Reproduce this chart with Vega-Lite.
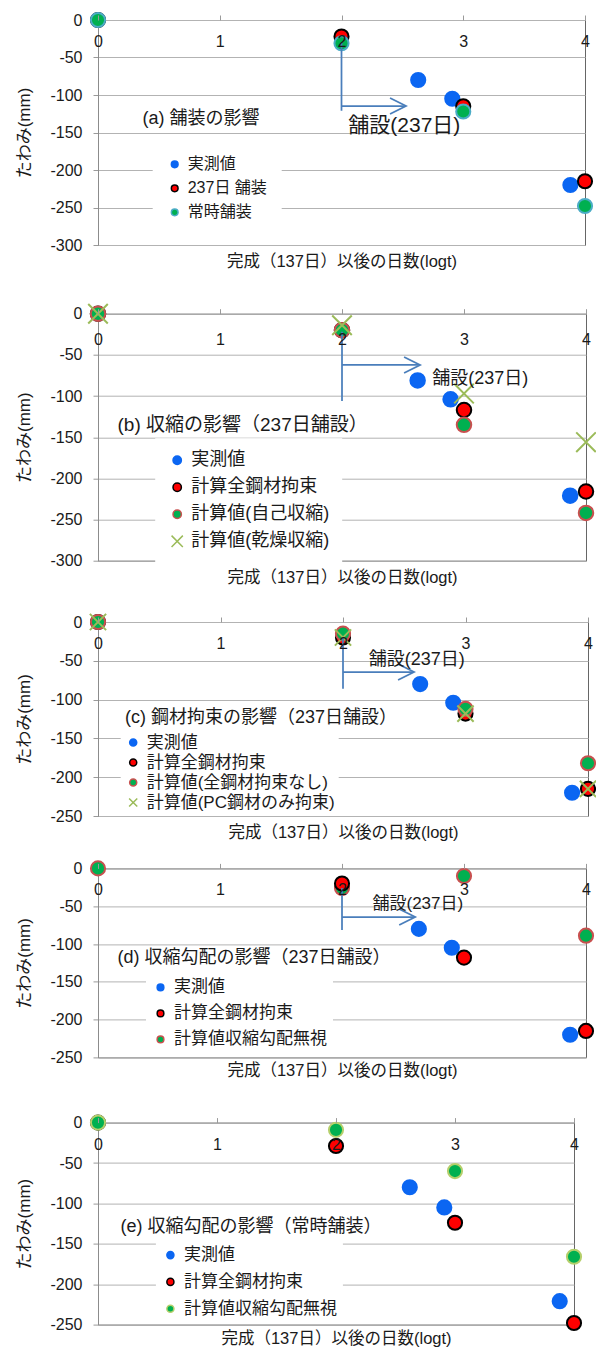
{
  "$schema": "https://vega.github.io/schema/vega-lite/v6.json",
  "background": "white",
  "padding": {"left": 15, "top": 8, "right": 0, "bottom": 0},
  "spacing": 30.6,
  "config": {
    "font": "Liberation Sans, Noto Sans CJK JP",
    "view": {"stroke": "#666666", "strokeWidth": 1},
    "axis": {
      "labelFont": "Liberation Sans, Noto Sans CJK JP",
      "titleFont": "Liberation Sans, Noto Sans CJK JP",
      "labelFontSize": 16,
      "labelColor": "#1a1a1a",
      "titleFontSize": 16.5,
      "titleFontWeight": "normal",
      "titleColor": "#1a1a1a",
      "gridColor": "#b3b3b3",
      "tickColor": "#9a9a9a",
      "domainColor": "#8c8c8c"
    },
    "legend": {
      "labelFont": "Liberation Sans, Noto Sans CJK JP",
      "labelColor": "#1a1a1a",
      "labelLimit": 0,
      "fillColor": "white",
      "symbolStrokeWidth": 1.5,
      "labelOffset": 5
    },
    "text": {"font": "Liberation Sans, Noto Sans CJK JP", "color": "#1a1a1a"}
  },
  "resolve": {
    "scale": {"x": "independent", "y": "independent", "fill": "independent", "stroke": "independent", "shape": "independent"}
  },
  "datasets": {
    "pts": [
      {"p": "a", "s": "実測値", "x": 2.63, "y": -80},
      {"p": "a", "s": "実測値", "x": 2.91, "y": -105},
      {"p": "a", "s": "実測値", "x": 3.88, "y": -220},
      {"p": "a", "s": "237日 舗装", "x": 0, "y": 0},
      {"p": "a", "s": "237日 舗装", "x": 2, "y": -22},
      {"p": "a", "s": "237日 舗装", "x": 3, "y": -115},
      {"p": "a", "s": "237日 舗装", "x": 4, "y": -215},
      {"p": "a", "s": "常時舗装", "x": 0, "y": 0},
      {"p": "a", "s": "常時舗装", "x": 2, "y": -31},
      {"p": "a", "s": "常時舗装", "x": 3, "y": -122},
      {"p": "a", "s": "常時舗装", "x": 4, "y": -248},

      {"p": "b", "s": "実測値", "x": 2.62, "y": -81},
      {"p": "b", "s": "実測値", "x": 2.89, "y": -104},
      {"p": "b", "s": "実測値", "x": 3.87, "y": -221},
      {"p": "b", "s": "計算全鋼材拘束", "x": 0, "y": 0},
      {"p": "b", "s": "計算全鋼材拘束", "x": 2, "y": -20},
      {"p": "b", "s": "計算全鋼材拘束", "x": 3, "y": -117},
      {"p": "b", "s": "計算全鋼材拘束", "x": 4, "y": -216},
      {"p": "b", "s": "計算値(自己収縮)", "x": 0, "y": 0},
      {"p": "b", "s": "計算値(自己収縮)", "x": 2, "y": -20},
      {"p": "b", "s": "計算値(自己収縮)", "x": 3, "y": -135},
      {"p": "b", "s": "計算値(自己収縮)", "x": 4, "y": -242},
      {"p": "b", "s": "計算値(乾燥収縮)", "x": 0, "y": 0},
      {"p": "b", "s": "計算値(乾燥収縮)", "x": 2, "y": -14},
      {"p": "b", "s": "計算値(乾燥収縮)", "x": 3, "y": -97},
      {"p": "b", "s": "計算値(乾燥収縮)", "x": 4, "y": -156},

      {"p": "c", "s": "実測値", "x": 2.63, "y": -80},
      {"p": "c", "s": "実測値", "x": 2.9, "y": -104},
      {"p": "c", "s": "実測値", "x": 3.87, "y": -220},
      {"p": "c", "s": "計算全鋼材拘束", "x": 0, "y": 0},
      {"p": "c", "s": "計算全鋼材拘束", "x": 2, "y": -20},
      {"p": "c", "s": "計算全鋼材拘束", "x": 3, "y": -118},
      {"p": "c", "s": "計算全鋼材拘束", "x": 4, "y": -215},
      {"p": "c", "s": "計算値(全鋼材拘束なし)", "x": 0, "y": 0},
      {"p": "c", "s": "計算値(全鋼材拘束なし)", "x": 2, "y": -15},
      {"p": "c", "s": "計算値(全鋼材拘束なし)", "x": 3, "y": -112},
      {"p": "c", "s": "計算値(全鋼材拘束なし)", "x": 4, "y": -182},
      {"p": "c", "s": "計算値(PC鋼材のみ拘束)", "x": 0, "y": 0},
      {"p": "c", "s": "計算値(PC鋼材のみ拘束)", "x": 2, "y": -20},
      {"p": "c", "s": "計算値(PC鋼材のみ拘束)", "x": 3, "y": -118},
      {"p": "c", "s": "計算値(PC鋼材のみ拘束)", "x": 4, "y": -215},

      {"p": "d", "s": "実測値", "x": 2.63, "y": -80},
      {"p": "d", "s": "実測値", "x": 2.9, "y": -105},
      {"p": "d", "s": "実測値", "x": 3.87, "y": -220},
      {"p": "d", "s": "計算値収縮勾配無視", "x": 0, "y": 0},
      {"p": "d", "s": "計算値収縮勾配無視", "x": 2, "y": -26},
      {"p": "d", "s": "計算値収縮勾配無視", "x": 3, "y": -10},
      {"p": "d", "s": "計算値収縮勾配無視", "x": 4, "y": -89},
      {"p": "d", "s": "計算全鋼材拘束", "x": 2, "y": -20},
      {"p": "d", "s": "計算全鋼材拘束", "x": 3, "y": -118},
      {"p": "d", "s": "計算全鋼材拘束", "x": 4, "y": -215},

      {"p": "e", "s": "実測値", "x": 2.62, "y": -80},
      {"p": "e", "s": "実測値", "x": 2.91, "y": -105},
      {"p": "e", "s": "実測値", "x": 3.88, "y": -221},
      {"p": "e", "s": "計算全鋼材拘束", "x": 0, "y": 0},
      {"p": "e", "s": "計算全鋼材拘束", "x": 2, "y": -29},
      {"p": "e", "s": "計算全鋼材拘束", "x": 3, "y": -124},
      {"p": "e", "s": "計算全鋼材拘束", "x": 4, "y": -248},
      {"p": "e", "s": "計算値収縮勾配無視", "x": 0, "y": 0},
      {"p": "e", "s": "計算値収縮勾配無視", "x": 2, "y": -9},
      {"p": "e", "s": "計算値収縮勾配無視", "x": 3, "y": -60},
      {"p": "e", "s": "計算値収縮勾配無視", "x": 4, "y": -166}
    ],
    "notes": [
      {"p": "a", "k": "title", "t": "(a) 舗装の影響", "x": 0.365, "y": -132},
      {"p": "a", "k": "pave", "t": "舗設(237日)", "x": 2.056, "y": -141},
      {"p": "b", "k": "title", "t": "(b) 収縮の影響（237日舗設）", "x": 0.16, "y": -135},
      {"p": "b", "k": "pave", "t": "舗設(237日)", "x": 2.74, "y": -79},
      {"p": "c", "k": "title", "t": "(c) 鋼材拘束の影響（237日舗設）", "x": 0.22, "y": -124},
      {"p": "c", "k": "pave", "t": "舗設(237日)", "x": 2.21, "y": -49.4},
      {"p": "d", "k": "title", "t": "(d) 収縮勾配の影響（237日舗設）", "x": 0.16, "y": -119},
      {"p": "d", "k": "pave", "t": "舗設(237日)", "x": 2.25, "y": -47},
      {"p": "e", "k": "title", "t": "(e) 収縮勾配の影響（常時舗装）", "x": 0.19, "y": -129}
    ],
    "arrows": [
      {"p": "a", "x": 2, "x2": 2, "y": -30, "y2": -121},
      {"p": "a", "x": 2, "x2": 2.53, "y": -114.7, "y2": -114.7},
      {"p": "b", "x": 2, "x2": 2, "y": -22, "y2": -106},
      {"p": "b", "x": 2, "x2": 2.64, "y": -62.3, "y2": -62.3},
      {"p": "c", "x": 2, "x2": 2, "y": -20, "y2": -86},
      {"p": "c", "x": 2, "x2": 2.58, "y": -64.5, "y2": -64.5},
      {"p": "d", "x": 2, "x2": 2, "y": -26, "y2": -81.5},
      {"p": "d", "x": 2, "x2": 2.6, "y": -64.3, "y2": -64.3}
    ],
    "heads": [
      {"p": "a", "x": 2.53, "y": -114.7},
      {"p": "b", "x": 2.64, "y": -62.3},
      {"p": "c", "x": 2.58, "y": -64.5},
      {"p": "d", "x": 2.6, "y": -64.3}
    ]
  },
  "vconcat": [
    {
      "spacing": 22,
      "resolve": {
        "scale": {"x": "independent", "y": "independent", "fill": "independent", "stroke": "independent", "shape": "independent"}
      },
      "vconcat": [
        {
          "spacing": 28.7,
          "resolve": {
            "scale": {"x": "independent", "y": "independent", "fill": "independent", "stroke": "independent", "shape": "independent"}
          },
          "vconcat": [
            {
              "width": 487, "height": 225,
              "layer": [
                {
                  "data": {"name": "pts"},
                  "transform": [{"filter": "datum.p === 'a'"}],
                  "mark": {"type": "point", "filled": true, "opacity": 1, "size": 200, "strokeWidth": 2},
                  "encoding": {
                    "x": {"field": "x", "type": "quantitative", "scale": {"domain": [0, 4], "nice": false, "zero": false},
                      "axis": {"orient": "top", "values": [0, 1, 2, 3, 4], "format": "d", "grid": false, "domain": false, "zindex": 1, "tickSize": 5, "labelPadding": -18, "labelBaseline": "top", "labelFlush": false, "labelOverlap": false,
                        "title": "完成（137日）以後の日数(logt)", "titleY": 241, "titleBaseline": "middle"}},
                    "y": {"field": "y", "type": "quantitative", "scale": {"domain": [-300, 0], "nice": false, "zero": false},
                      "axis": {"values": [0, -50, -100, -150, -200, -250, -300], "tickCount": 20, "labelOverlap": false, "labelFlush": false, "title": "たわみ(mm)", "titleFontSize": 17, "titlePadding": 16, "labelPadding": 11, "tickSize": 5, "grid": true, "labelExpr": "replace(datum.label, '\u2212', '-')"}},
                    "fill": {"field": "s", "type": "nominal",
                      "scale": {"domain": ["実測値", "237日 舗装", "常時舗装"], "range": ["#0b66f2", "#ff0000", "#00b050"]},
                      "legend": {"title": null, "orient": "none", "legendX": 54.7, "legendY": 122.3, "padding": 14, "rowPadding": 8, "labelFontSize": 16, "symbolSize": 45}},
                    "stroke": {"field": "s", "type": "nominal",
                      "scale": {"domain": ["実測値", "237日 舗装", "常時舗装"], "range": ["#0b66f2", "#000000", "#4bacc6"]}},
                    "shape": {"field": "s", "type": "nominal",
                      "scale": {"domain": ["実測値", "237日 舗装", "常時舗装"], "range": ["circle", "circle", "circle"]}}
                  }
                },
                {
                  "data": {"name": "arrows"},
                  "transform": [{"filter": "datum.p === 'a'"}],
                  "mark": {"type": "rule", "color": "#4a7ebb", "strokeWidth": 1.75},
                  "encoding": {
                    "x": {"field": "x", "type": "quantitative"}, "x2": {"field": "x2"},
                    "y": {"field": "y", "type": "quantitative"}, "y2": {"field": "y2"}
                  }
                },
                {
                  "data": {"name": "heads"},
                  "transform": [{"filter": "datum.p === 'a'"}],
                  "mark": {"type": "point", "shape": "M-2,-1L0,0L-2,1", "size": 256, "filled": false, "opacity": 1, "stroke": "#4a7ebb", "strokeWidth": 1.75},
                  "encoding": {"x": {"field": "x", "type": "quantitative"}, "y": {"field": "y", "type": "quantitative"}}
                },
                {
                  "data": {"name": "notes"},
                  "transform": [{"filter": "datum.p === 'a' && datum.k === 'title'"}],
                  "mark": {"type": "text", "align": "left", "baseline": "middle", "fontSize": 18},
                  "encoding": {"x": {"field": "x", "type": "quantitative"}, "y": {"field": "y", "type": "quantitative"}, "text": {"field": "t"}}
                },
                {
                  "data": {"name": "notes"},
                  "transform": [{"filter": "datum.p === 'a' && datum.k === 'pave'"}],
                  "mark": {"type": "text", "align": "left", "baseline": "middle", "fontSize": 21},
                  "encoding": {"x": {"field": "x", "type": "quantitative"}, "y": {"field": "y", "type": "quantitative"}, "text": {"field": "t"}}
                }
              ]
            },
            {
              "width": 488, "height": 247,
              "layer": [
                {
                  "data": {"name": "pts"},
                  "transform": [{"filter": "datum.p === 'b'"}],
                  "mark": {"type": "point", "filled": true, "opacity": 1, "size": 210, "strokeWidth": 2},
                  "encoding": {
                    "x": {"field": "x", "type": "quantitative", "scale": {"domain": [0, 4], "nice": false, "zero": false},
                      "axis": {"orient": "top", "values": [0, 1, 2, 3, 4], "format": "d", "grid": false, "domain": false, "zindex": 1, "tickSize": 5, "labelPadding": -23, "labelBaseline": "top", "labelFlush": false, "labelOverlap": false,
                        "title": "完成（137日）以後の日数(logt)", "titleY": 264, "titleBaseline": "middle"}},
                    "y": {"field": "y", "type": "quantitative", "scale": {"domain": [-300, 0], "nice": false, "zero": false},
                      "axis": {"values": [0, -50, -100, -150, -200, -250, -300], "tickCount": 20, "labelOverlap": false, "labelFlush": false, "title": "たわみ(mm)", "titleFontSize": 17, "titlePadding": 16, "labelPadding": 11, "tickSize": 5, "grid": true, "labelExpr": "replace(datum.label, '\u2212', '-')"}},
                    "fill": {"field": "s", "type": "nominal",
                      "scale": {"domain": ["実測値", "計算全鋼材拘束", "計算値(自己収縮)", "計算値(乾燥収縮)"], "range": ["#0b66f2", "#ff0000", "#00b050", "transparent"]},
                      "legend": {"title": null, "orient": "none", "legendX": 57.2, "legendY": 124.6, "padding": 13, "rowPadding": 9, "labelFontSize": 18, "symbolSize": 70}},
                    "stroke": {"field": "s", "type": "nominal",
                      "scale": {"domain": ["実測値", "計算全鋼材拘束", "計算値(自己収縮)", "計算値(乾燥収縮)"], "range": ["#0b66f2", "#000000", "#c8504f", "#9bbb59"]}},
                    "shape": {"field": "s", "type": "nominal",
                      "scale": {"domain": ["実測値", "計算全鋼材拘束", "計算値(自己収縮)", "計算値(乾燥収縮)"], "range": ["circle", "circle", "circle", "M-1.35,-1.35L1.35,1.35M1.35,-1.35L-1.35,1.35"]}}
                  }
                },
                {
                  "data": {"name": "arrows"},
                  "transform": [{"filter": "datum.p === 'b'"}],
                  "mark": {"type": "rule", "color": "#4a7ebb", "strokeWidth": 1.75},
                  "encoding": {
                    "x": {"field": "x", "type": "quantitative"}, "x2": {"field": "x2"},
                    "y": {"field": "y", "type": "quantitative"}, "y2": {"field": "y2"}
                  }
                },
                {
                  "data": {"name": "heads"},
                  "transform": [{"filter": "datum.p === 'b'"}],
                  "mark": {"type": "point", "shape": "M-2,-1L0,0L-2,1", "size": 256, "filled": false, "opacity": 1, "stroke": "#4a7ebb", "strokeWidth": 1.75},
                  "encoding": {"x": {"field": "x", "type": "quantitative"}, "y": {"field": "y", "type": "quantitative"}}
                },
                {
                  "data": {"name": "notes"},
                  "transform": [{"filter": "datum.p === 'b' && datum.k === 'title'"}],
                  "mark": {"type": "text", "align": "left", "baseline": "middle", "fontSize": 19},
                  "encoding": {"x": {"field": "x", "type": "quantitative"}, "y": {"field": "y", "type": "quantitative"}, "text": {"field": "t"}}
                },
                {
                  "data": {"name": "notes"},
                  "transform": [{"filter": "datum.p === 'b' && datum.k === 'pave'"}],
                  "mark": {"type": "text", "align": "left", "baseline": "middle", "fontSize": 18},
                  "encoding": {"x": {"field": "x", "type": "quantitative"}, "y": {"field": "y", "type": "quantitative"}, "text": {"field": "t"}}
                }
              ]
            }
          ]
        },
        {
          "spacing": 15.4,
          "resolve": {
            "scale": {"x": "independent", "y": "independent", "fill": "independent", "stroke": "independent", "shape": "independent"}
          },
          "vconcat": [
            {
              "width": 490, "height": 194,
              "layer": [
                {
                  "data": {"name": "pts"},
                  "transform": [{"filter": "datum.p === 'c'"}],
                  "mark": {"type": "point", "filled": true, "opacity": 1, "size": 200, "strokeWidth": 2},
                  "encoding": {
                    "x": {"field": "x", "type": "quantitative", "scale": {"domain": [0, 4], "nice": false, "zero": false},
                      "axis": {"orient": "top", "values": [0, 1, 2, 3, 4], "format": "d", "grid": false, "domain": false, "zindex": 1, "tickSize": 5, "labelPadding": -18, "labelBaseline": "top", "labelFlush": false, "labelOverlap": false,
                        "title": "完成（137日）以後の日数(logt)", "titleY": 210, "titleBaseline": "middle"}},
                    "y": {"field": "y", "type": "quantitative", "scale": {"domain": [-250, 0], "nice": false, "zero": false},
                      "axis": {"values": [0, -50, -100, -150, -200, -250], "tickCount": 20, "labelOverlap": false, "labelFlush": false, "title": "たわみ(mm)", "titleFontSize": 17, "titlePadding": 16, "labelPadding": 11, "tickSize": 5, "grid": true, "labelExpr": "replace(datum.label, '\u2212', '-')"}},
                    "fill": {"field": "s", "type": "nominal",
                      "scale": {"domain": ["実測値", "計算全鋼材拘束", "計算値(全鋼材拘束なし)", "計算値(PC鋼材のみ拘束)"], "range": ["#0b66f2", "#ff0000", "#00b050", "transparent"]},
                      "legend": {"title": null, "orient": "none", "legendX": 22.7, "legendY": 108, "padding": 4, "rowPadding": 2, "labelFontSize": 17, "symbolSize": 50}},
                    "stroke": {"field": "s", "type": "nominal",
                      "scale": {"domain": ["実測値", "計算全鋼材拘束", "計算値(全鋼材拘束なし)", "計算値(PC鋼材のみ拘束)"], "range": ["#0b66f2", "#000000", "#c8504f", "#9bbb59"]}},
                    "shape": {"field": "s", "type": "nominal",
                      "scale": {"domain": ["実測値", "計算全鋼材拘束", "計算値(全鋼材拘束なし)", "計算値(PC鋼材のみ拘束)"], "range": ["circle", "circle", "circle", "M-1.15,-1.15L1.15,1.15M1.15,-1.15L-1.15,1.15"]}}
                  }
                },
                {
                  "data": {"name": "arrows"},
                  "transform": [{"filter": "datum.p === 'c'"}],
                  "mark": {"type": "rule", "color": "#4a7ebb", "strokeWidth": 1.75},
                  "encoding": {
                    "x": {"field": "x", "type": "quantitative"}, "x2": {"field": "x2"},
                    "y": {"field": "y", "type": "quantitative"}, "y2": {"field": "y2"}
                  }
                },
                {
                  "data": {"name": "heads"},
                  "transform": [{"filter": "datum.p === 'c'"}],
                  "mark": {"type": "point", "shape": "M-2,-1L0,0L-2,1", "size": 256, "filled": false, "opacity": 1, "stroke": "#4a7ebb", "strokeWidth": 1.75},
                  "encoding": {"x": {"field": "x", "type": "quantitative"}, "y": {"field": "y", "type": "quantitative"}}
                },
                {
                  "data": {"name": "notes"},
                  "transform": [{"filter": "datum.p === 'c' && datum.k === 'title'"}],
                  "mark": {"type": "text", "align": "left", "baseline": "middle", "fontSize": 18},
                  "encoding": {"x": {"field": "x", "type": "quantitative"}, "y": {"field": "y", "type": "quantitative"}, "text": {"field": "t"}}
                },
                {
                  "data": {"name": "notes"},
                  "transform": [{"filter": "datum.p === 'c' && datum.k === 'pave'"}],
                  "mark": {"type": "text", "align": "left", "baseline": "middle", "fontSize": 18},
                  "encoding": {"x": {"field": "x", "type": "quantitative"}, "y": {"field": "y", "type": "quantitative"}, "text": {"field": "t"}}
                }
              ]
            },
            {
              "width": 488, "height": 189,
              "layer": [
                {
                  "data": {"name": "pts"},
                  "transform": [{"filter": "datum.p === 'd'"}],
                  "mark": {"type": "point", "filled": true, "opacity": 1, "size": 200, "strokeWidth": 2},
                  "encoding": {
                    "x": {"field": "x", "type": "quantitative", "scale": {"domain": [0, 4], "nice": false, "zero": false},
                      "axis": {"orient": "top", "values": [0, 1, 2, 3, 4], "format": "d", "grid": false, "domain": false, "zindex": 1, "tickSize": 5, "labelPadding": -18, "labelBaseline": "top", "labelFlush": false, "labelOverlap": false,
                        "title": "完成（137日）以後の日数(logt)", "titleY": 202, "titleBaseline": "middle"}},
                    "y": {"field": "y", "type": "quantitative", "scale": {"domain": [-250, 0], "nice": false, "zero": false},
                      "axis": {"values": [0, -50, -100, -150, -200, -250], "tickCount": 20, "labelOverlap": false, "labelFlush": false, "title": "たわみ(mm)", "titleFontSize": 17, "titlePadding": 16, "labelPadding": 11, "tickSize": 5, "grid": true, "labelExpr": "replace(datum.label, '\u2212', '-')"}},
                    "fill": {"field": "s", "type": "nominal",
                      "scale": {"domain": ["実測値", "計算全鋼材拘束", "計算値収縮勾配無視"], "range": ["#0b66f2", "#ff0000", "#00b050"]},
                      "legend": {"title": null, "orient": "none", "legendX": 48, "legendY": 104.5, "padding": 6, "rowPadding": 8, "labelFontSize": 17, "symbolSize": 45}},
                    "stroke": {"field": "s", "type": "nominal",
                      "scale": {"domain": ["実測値", "計算全鋼材拘束", "計算値収縮勾配無視"], "range": ["#0b66f2", "#000000", "#c8504f"]}},
                    "shape": {"field": "s", "type": "nominal",
                      "scale": {"domain": ["実測値", "計算全鋼材拘束", "計算値収縮勾配無視"], "range": ["circle", "circle", "circle"]}}
                  }
                },
                {
                  "data": {"name": "arrows"},
                  "transform": [{"filter": "datum.p === 'd'"}],
                  "mark": {"type": "rule", "color": "#4a7ebb", "strokeWidth": 1.75},
                  "encoding": {
                    "x": {"field": "x", "type": "quantitative"}, "x2": {"field": "x2"},
                    "y": {"field": "y", "type": "quantitative"}, "y2": {"field": "y2"}
                  }
                },
                {
                  "data": {"name": "heads"},
                  "transform": [{"filter": "datum.p === 'd'"}],
                  "mark": {"type": "point", "shape": "M-2,-1L0,0L-2,1", "size": 256, "filled": false, "opacity": 1, "stroke": "#4a7ebb", "strokeWidth": 1.75},
                  "encoding": {"x": {"field": "x", "type": "quantitative"}, "y": {"field": "y", "type": "quantitative"}}
                },
                {
                  "data": {"name": "notes"},
                  "transform": [{"filter": "datum.p === 'd' && datum.k === 'title'"}],
                  "mark": {"type": "text", "align": "left", "baseline": "middle", "fontSize": 18},
                  "encoding": {"x": {"field": "x", "type": "quantitative"}, "y": {"field": "y", "type": "quantitative"}, "text": {"field": "t"}}
                },
                {
                  "data": {"name": "notes"},
                  "transform": [{"filter": "datum.p === 'd' && datum.k === 'pave'"}],
                  "mark": {"type": "text", "align": "left", "baseline": "middle", "fontSize": 17},
                  "encoding": {"x": {"field": "x", "type": "quantitative"}, "y": {"field": "y", "type": "quantitative"}, "text": {"field": "t"}}
                }
              ]
            }
          ]
        }
      ]
    },
    {
      "width": 476, "height": 202,
      "layer": [
        {
          "data": {"name": "pts"},
          "transform": [{"filter": "datum.p === 'e'"}],
          "mark": {"type": "point", "filled": true, "opacity": 1, "size": 200, "strokeWidth": 2},
          "encoding": {
            "x": {"field": "x", "type": "quantitative", "scale": {"domain": [0, 4], "nice": false, "zero": false},
              "axis": {"orient": "top", "values": [0, 1, 2, 3, 4], "format": "d", "grid": false, "domain": false, "zindex": 1, "tickSize": 5, "labelPadding": -19, "labelBaseline": "top", "labelFlush": false, "labelOverlap": false,
                "title": "完成（137日）以後の日数(logt)", "titleY": 216, "titleBaseline": "middle"}},
            "y": {"field": "y", "type": "quantitative", "scale": {"domain": [-250, 0], "nice": false, "zero": false},
              "axis": {"values": [0, -50, -100, -150, -200, -250], "tickCount": 20, "labelOverlap": false, "labelFlush": false, "title": "たわみ(mm)", "titleFontSize": 17, "titlePadding": 16, "labelPadding": 11, "tickSize": 5, "grid": true, "labelExpr": "replace(datum.label, '\u2212', '-')"}},
            "fill": {"field": "s", "type": "nominal",
              "scale": {"domain": ["実測値", "計算全鋼材拘束", "計算値収縮勾配無視"], "range": ["#0b66f2", "#ff0000", "#00b050"]},
              "legend": {"title": null, "orient": "none", "legendX": 57.9, "legendY": 118, "padding": 6, "rowPadding": 8.8, "labelFontSize": 17, "symbolSize": 50}},
            "stroke": {"field": "s", "type": "nominal",
              "scale": {"domain": ["実測値", "計算全鋼材拘束", "計算値収縮勾配無視"], "range": ["#0b66f2", "#000000", "#b5cf6b"]}},
            "shape": {"field": "s", "type": "nominal",
              "scale": {"domain": ["実測値", "計算全鋼材拘束", "計算値収縮勾配無視"], "range": ["circle", "circle", "circle"]}}
          }
        },
        {
          "data": {"name": "notes"},
          "transform": [{"filter": "datum.p === 'e' && datum.k === 'title'"}],
          "mark": {"type": "text", "align": "left", "baseline": "middle", "fontSize": 18},
          "encoding": {"x": {"field": "x", "type": "quantitative"}, "y": {"field": "y", "type": "quantitative"}, "text": {"field": "t"}}
        }
      ]
    }
  ]
}
